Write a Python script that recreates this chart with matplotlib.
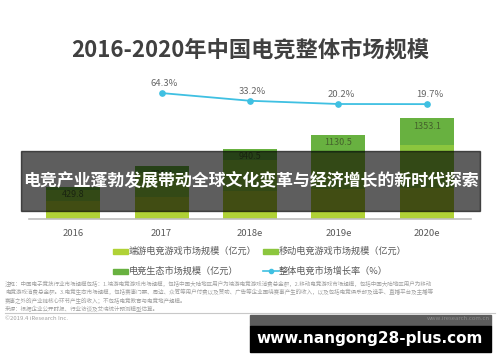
import matplotlib
matplotlib.use('Agg')
import matplotlib.pyplot as plt
from matplotlib.patches import Rectangle
from matplotlib.lines import Line2D

plt.rcParams['font.family'] = ['Noto Sans CJK SC', 'DejaVu Sans']

# ---------------- data ----------------
years = ['2016', '2017', '2018e', '2019e', '2020e']
pc_game = [240, 300, 370, 400, 420]          # 端游电竞游戏市场规模（亿元）
mobile_game = [150, 320, 420, 480, 571]      # 移动电竞游戏市场规模（亿元）
ecosystem = [39.8, 86.1, 150.5, 250.5, 362.1]  # 电竞生态市场规模（亿元）
totals = [429.8, 706.1, 940.5, 1130.5, 1353.1]
growth_idx = [1, 2, 3, 4]
growth = [64.3, 33.2, 20.2, 19.7]            # 整体电竞市场增长率（%）

series_names = ['端游电竞游戏市场规模（亿元）', '移动电竞游戏市场规模（亿元）',
                '电竞生态市场规模（亿元）', '整体电竞市场增长率（%）']
title = '2016-2020年中国电竞整体市场规模'
banner = '电竞产业蓬勃发展带动全球文化变革与经济增长的新时代探索'
notes = [
    '注释：中国电子竞技行业市场规模包括：1.端游电竞游戏市场规模，包括中国大陆地区用户为端游电竞游戏消费总金额，2.移动电竞游戏市场规模，包括中国大陆地区用户为移动',
    '电竞游戏消费总金额。3.电竞生态市场规模，包括赛事门票、周边、众筹等用户付费以及赞助、广告等企业围绕赛事产生的收入，以及包括电竞俱乐部及选手、直播平台及主播等',
    '赛事之外的产业链核心环节产生的收入；不包括电竞教育与电竞地产规模。',
    '来源：根据企业公开财报、行业访谈及艾瑞统计预测模型估算。',
]

C_PC = '#b0d236'
C_MOB = '#8cc63e'
C_ECO = '#68b140'
C_LINE = '#3fc0e2'

W, H = 500, 362
fig = plt.figure(figsize=(5, 3.62), dpi=100)


def fx(x):
    return x / W


def fy(y):
    return 1 - y / H


# ---------------- main axes ----------------
ax = fig.add_axes([fx(29), fy(219), (471 - 29) / W, (219 - 80) / H])
xs = list(range(len(years)))
bw = 0.61
ax.bar(xs, pc_game, width=bw, color=C_PC, zorder=2)
bot2 = [a for a in pc_game]
ax.bar(xs, mobile_game, width=bw, bottom=bot2, color=C_MOB, zorder=2)
bot3 = [a + b for a, b in zip(pc_game, mobile_game)]
ax.bar(xs, ecosystem, width=bw, bottom=bot3, color=C_ECO, zorder=2)
for i, t in enumerate(totals):
    ax.annotate(f'{t}', (i, t), xytext=(0, -5.8), textcoords='offset points',
                ha='center', va='center', fontsize=6.5, color='#45622c', zorder=3)

ax.set_xlim(-0.5, len(years) - 0.5)
ax.set_ylim(0, 139 / 0.0746)
ax.set_xticks(xs)
ax.set_xticklabels(years, fontsize=6.8, color='#595959')
ax.tick_params(axis='x', length=0, pad=7)
ax.set_yticks([])
for s in ['top', 'left', 'right']:
    ax.spines[s].set_visible(False)
ax.spines['bottom'].set_color('#bdbdbd')
ax.spines['bottom'].set_linewidth(1.2)
ax.patch.set_visible(False)

ax2 = ax.twinx()
ax2.set_ylim(-443.5, 117)
ax2.plot(growth_idx, growth, color=C_LINE, lw=1.3, marker='o', ms=3.8, zorder=4)
for xi, g in zip(growth_idx, growth):
    ax2.annotate(f'{g}%', (xi, g), xytext=(2, 3.5), textcoords='offset points',
                 ha='center', va='bottom', fontsize=6.8, color='#666666')
ax2.set_yticks([])
for s in ax2.spines.values():
    s.set_visible(False)

# ---------------- title ----------------
fig.text(0.5, fy(50), title, ha='center', va='center', fontsize=16,
         fontweight='bold', color='#404040')

# ---------------- legend ----------------
leg_items = [
    (113, 251, C_PC, series_names[0], 'patch'),
    (263, 251, C_MOB, series_names[1], 'patch'),
    (113, 271, C_ECO, series_names[2], 'patch'),
    (263, 271, C_LINE, series_names[3], 'line'),
]
for x0, y0, col, name, kind in leg_items:
    if kind == 'patch':
        fig.patches.append(Rectangle((fx(x0), fy(y0 + 2.5)), 15 / W, 5 / H,
                                     transform=fig.transFigure, color=col))
    else:
        fig.lines.append(Line2D([fx(x0), fx(x0 + 16)], [fy(y0), fy(y0)],
                                transform=fig.transFigure, color=col, lw=1.2,
                                marker='o', markevery=[0], ms=0))
        fig.lines.append(Line2D([fx(x0 + 8)], [fy(y0)], transform=fig.transFigure,
                                color=col, marker='o', ms=3))
    fig.text(fx(x0 + 16), fy(y0), name, ha='left', va='center', fontsize=6.6,
             color='#595959')

# ---------------- notes ----------------
for k, line in enumerate(notes):
    fig.text(fx(5), fy(284 + 8.3 * k), line, ha='left', va='center',
             fontsize=4.0, color='#a0a0a0')
fig.lines.append(Line2D([fx(5), fx(495)], [fy(313), fy(313)],
                        transform=fig.transFigure, color='#c8c8c8', lw=0.8))
fig.text(fx(5), fy(318), '©2019.4 iResearch Inc.', ha='left', va='center',
         fontsize=4.3, color='#a0a0a0')

# ---------------- overlays ----------------
fig.patches.append(Rectangle((fx(21), fy(211)), (480 - 21) / W, 60 / H,
                             transform=fig.transFigure, color='black',
                             alpha=0.63, zorder=10))
fig.text(0.5 * (fx(21) + fx(480)), fy(181), banner, ha='center', va='center',
         fontsize=12.2, fontweight='bold', color='white', zorder=11)

fig.patches.append(Rectangle((fx(250), fy(326)), (491 - 250) / W, 11 / H,
                             transform=fig.transFigure, color='#5c5c5c', zorder=10))
fig.text(fx(490), fy(318), 'www.iresearch.com.cn', ha='right', va='center',
         fontsize=4.3, color='#8a8a8a', zorder=11)
fig.patches.append(Rectangle((fx(250), fy(352)), (491 - 250) / W, 26 / H,
                             transform=fig.transFigure, color='black', zorder=10))
fig.text(fx(370), fy(339), 'www.nangong28-plus.com', ha='center', va='center',
         fontsize=11, fontweight='bold', color='white', family='DejaVu Sans',
         zorder=11)

fig.savefig('out.png', dpi=100, facecolor='white')
